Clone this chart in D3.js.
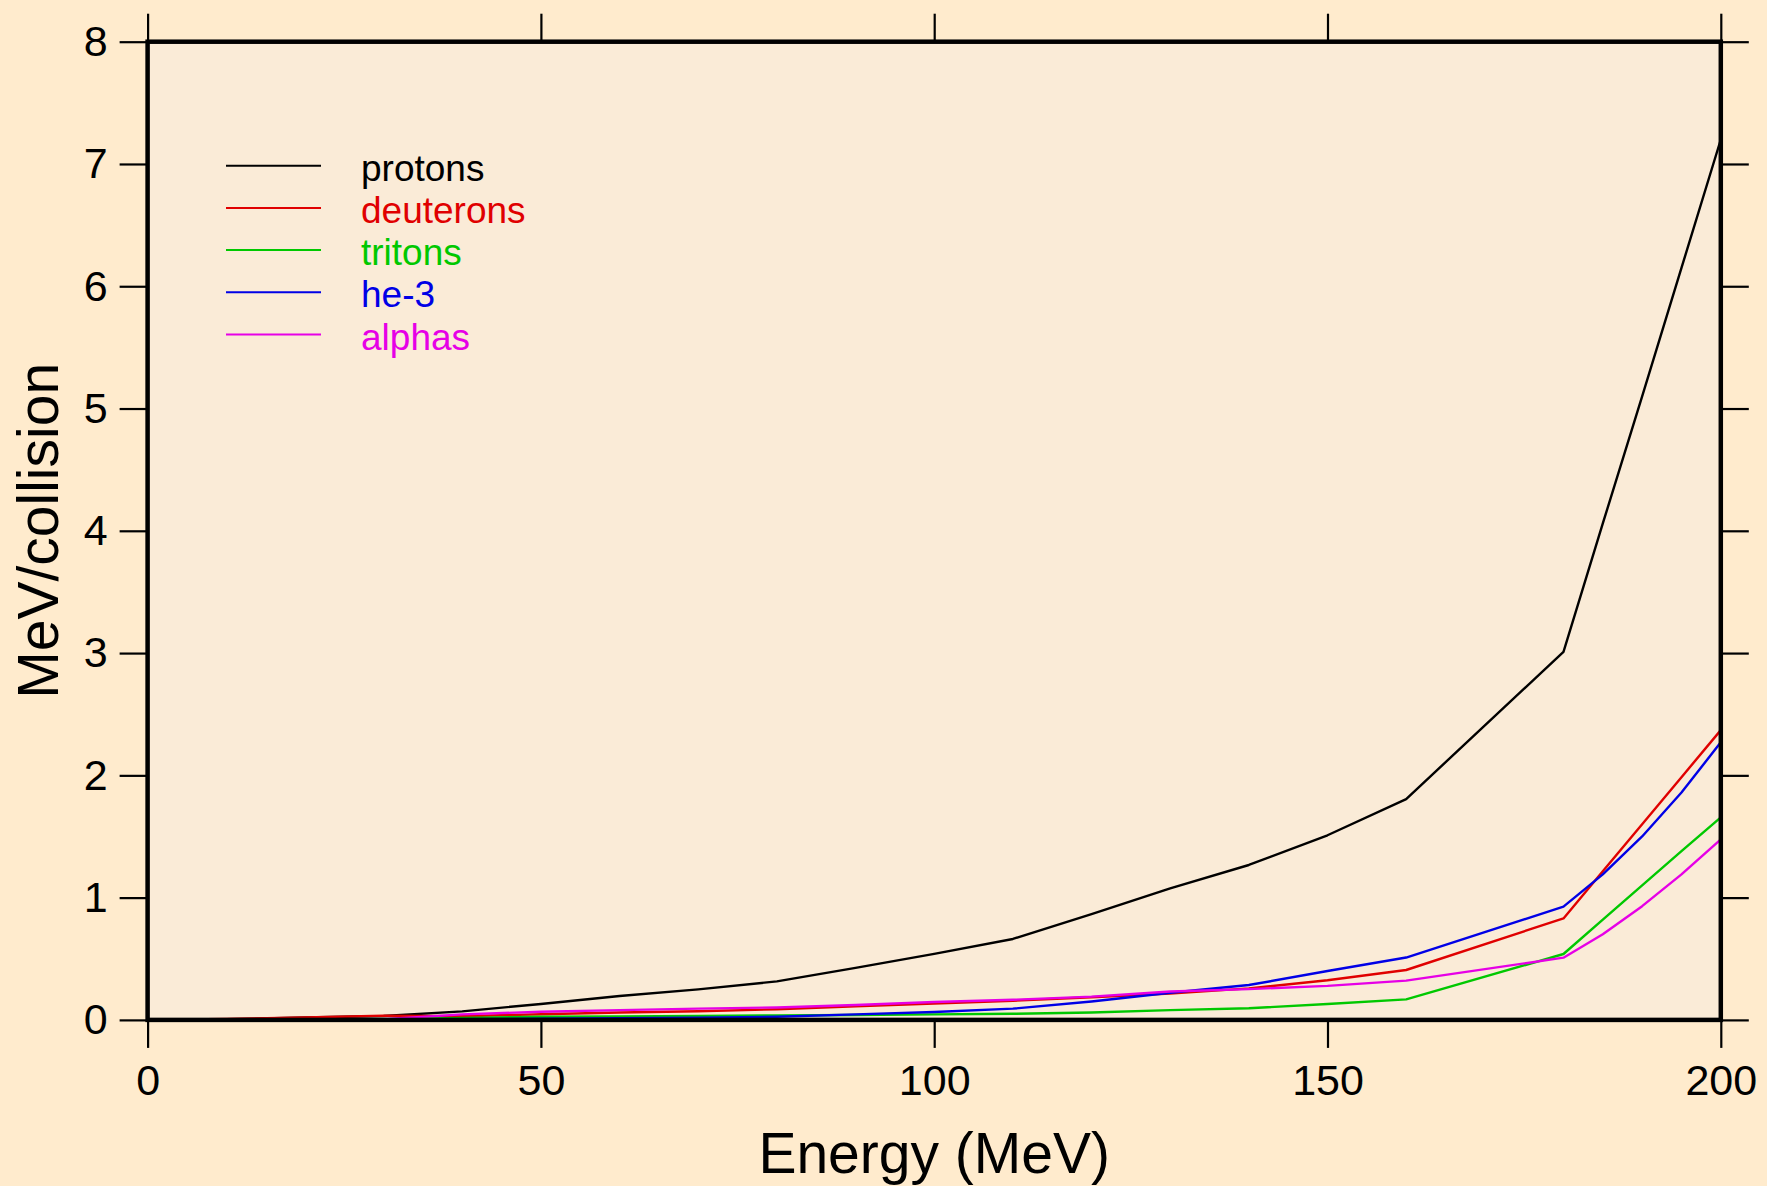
<!DOCTYPE html>
<html>
<head>
<meta charset="utf-8">
<script src="https://cdn.jsdelivr.net/npm/d3@7"></script>
<style>
  html, body { margin: 0; padding: 0; background: #ffebcd; }
  svg { display: block; font-family: "Liberation Sans", Arial, sans-serif; }
</style>
</head>
<body>
<svg id="chart" width="1767" height="1186"></svg>
<script>
// energies (MeV)
var energy    = [0, 10, 20, 30, 40, 50, 60, 70, 80, 90, 100, 110, 120, 130, 140, 150, 160, 180, 185, 190, 195, 200];
// MeV/collision for each particle
var protons   = [0, 0.005, 0.02, 0.032, 0.07, 0.13, 0.195, 0.25, 0.315, 0.425, 0.54, 0.662, 0.865, 1.076, 1.267, 1.51, 1.806, 3.01, 4.06, 5.1, 6.15, 7.2];
var deuterons = [0, 0.008, 0.02, 0.035, 0.03, 0.046, 0.06, 0.071, 0.087, 0.112, 0.134, 0.157, 0.185, 0.215, 0.258, 0.324, 0.408, 0.83, 1.215, 1.6, 1.985, 2.37];
var tritons   = [0, 0.002, 0.004, 0.006, 0.015, 0.026, 0.029, 0.033, 0.036, 0.04, 0.045, 0.05, 0.06, 0.08, 0.095, 0.13, 0.168, 0.539, 0.82, 1.1, 1.38, 1.657];
var he3       = [0, 0.002, 0.003, 0.005, 0.006, 0.01, 0.013, 0.018, 0.026, 0.045, 0.065, 0.092, 0.15, 0.222, 0.285, 0.4, 0.51, 0.926, 1.19, 1.5, 1.86, 2.27];
var alphas    = [0, 0.002, 0.003, 0.006, 0.045, 0.067, 0.08, 0.092, 0.102, 0.122, 0.146, 0.165, 0.19, 0.232, 0.252, 0.278, 0.321, 0.509, 0.7, 0.93, 1.19, 1.477];

var names  = ["protons", "deuterons", "tritons", "he-3", "alphas"];
var colors = ["#000000", "#e00000", "#00c800", "#0000e6", "#e600e6"];
var seriesValues = [protons, deuterons, tritons, he3, alphas];

var xTicks = [0, 50, 100, 150, 200];
var yTicks = [0, 1, 2, 3, 4, 5, 6, 7, 8];

var svg = d3.select("#chart"),
    width = +svg.attr("width"),
    height = +svg.attr("height");

// plot box (window.top is read-only, so use other names)
var pLeft = 147.6, pRight = 1720.8, pTop = 41.7, pBottom = 1019.9;
var tickLen = 28;

var x = d3.scaleLinear().domain([0, 200]).range([pLeft, pRight]);
var y = d3.scaleLinear().domain([0, 8]).range([pBottom, pTop]);

svg.append("rect")
    .attr("width", width).attr("height", height)
    .attr("fill", "#ffebcd");

svg.append("rect")
    .attr("x", pLeft).attr("y", pTop)
    .attr("width", pRight - pLeft).attr("height", pBottom - pTop)
    .attr("fill", "#faebd7");

// curves
var line = d3.line()
    .x(function(d) { return x(d[0]); })
    .y(function(d) { return y(d[1]); });

seriesValues.forEach(function(vals, i) {
    var pts = energy.map(function(e, j) { return [e, vals[j]]; });
    svg.append("path")
        .datum(pts)
        .attr("fill", "none")
        .attr("stroke", colors[i])
        .attr("stroke-width", 2.4)
        .attr("stroke-linejoin", "round")
        .attr("d", line);
});

// axes: ticks outside on all four sides
var bottomAxis = d3.axisBottom(x).tickValues(xTicks).tickSize(tickLen).tickFormat(d3.format("d"));
var topAxis = d3.axisTop(x).tickValues(xTicks).tickSize(tickLen).tickFormat("");
var leftAxis = d3.axisLeft(y).tickValues(yTicks).tickSize(tickLen).tickPadding(12).tickFormat(d3.format("d"));
var rightAxis = d3.axisRight(y).tickValues(yTicks).tickSize(tickLen).tickFormat("");

function styleAxis(g) {
    g.select(".domain").remove();
    g.selectAll(".tick line").attr("stroke", "#000").attr("stroke-width", 2.2);
    g.selectAll(".tick text")
        .attr("fill", "#000")
        .style("font-family", "'Liberation Sans', Arial, sans-serif")
        .style("font-size", "43px");
}

svg.append("g").attr("transform", "translate(0," + pBottom + ")").call(bottomAxis).call(styleAxis)
    .selectAll(".tick text").attr("dy", null).attr("y", 75);
svg.append("g").attr("transform", "translate(0," + pTop + ")").call(topAxis).call(styleAxis);
svg.append("g").attr("transform", "translate(" + pLeft + ",0)").call(leftAxis).call(styleAxis);
svg.append("g").attr("transform", "translate(" + pRight + ",0)").call(rightAxis).call(styleAxis);

// frame
svg.append("rect")
    .attr("x", pLeft).attr("y", pTop)
    .attr("width", pRight - pLeft).attr("height", pBottom - pTop)
    .attr("fill", "none")
    .attr("stroke", "#000")
    .attr("stroke-width", 4.5);

// axis titles
svg.append("text")
    .attr("x", (pLeft + pRight) / 2)
    .attr("y", 1173)
    .attr("text-anchor", "middle")
    .style("font-size", "57px")
    .text("Energy (MeV)");

svg.append("text")
    .attr("transform", "translate(58," + ((pTop + pBottom) / 2) + ") rotate(-90)")
    .attr("text-anchor", "middle")
    .style("font-size", "57px")
    .text("MeV/collision");

// legend
var legend = svg.append("g").selectAll("g")
    .data(names)
    .enter().append("g")
    .attr("transform", function(d, i) { return "translate(0," + (165.7 + i * 42.2) + ")"; });

legend.append("line")
    .attr("x1", 226).attr("x2", 321)
    .attr("y1", 0).attr("y2", 0)
    .attr("stroke", function(d, i) { return colors[i]; })
    .attr("stroke-width", 2);

legend.append("text")
    .attr("x", 361)
    .attr("y", 15)
    .attr("fill", function(d, i) { return colors[i]; })
    .style("font-size", "37px")
    .text(function(d) { return d; });
</script>
</body>
</html>
